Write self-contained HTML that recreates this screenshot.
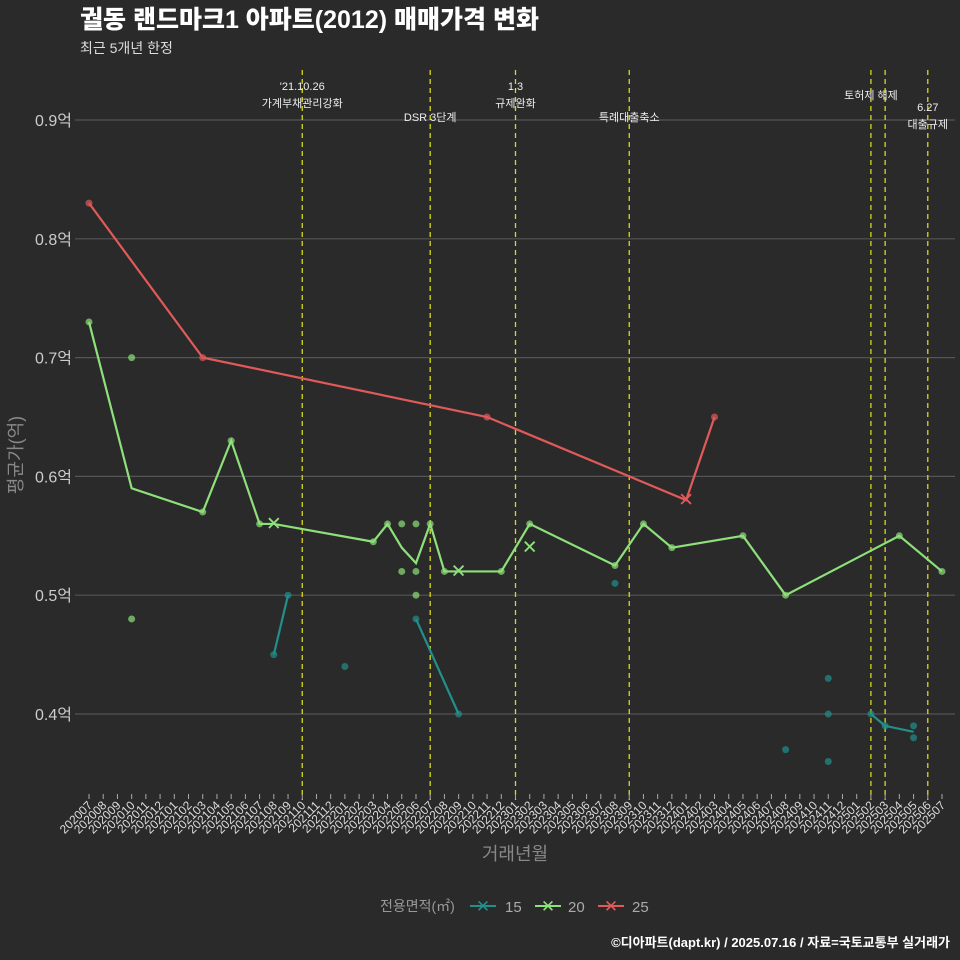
<!DOCTYPE html>
<html><head><meta charset="utf-8"><style>
body{margin:0;background:#2a2a2a;}
svg{display:block;font-family:"Liberation Sans","Noto Sans CJK KR",sans-serif;}
</style></head><body>
<svg id="c" width="960" height="960" viewBox="0 0 960 960">
<rect width="960" height="960" fill="#2a2a2a"/>
<text x="80" y="28" font-size="25" font-weight="900" fill="#fff">궐동 랜드마크1 아파트(2012) 매매가격 변화</text>
<text x="80" y="53" font-size="14" fill="#ddd">최근 5개년 한정</text>
<g id="grid"></g><g id="vlines"></g><g id="marks"></g><g id="xt"></g>
<text transform="translate(22,455) rotate(-90)" text-anchor="middle" font-size="18" fill="#888">평균가(억)</text>
<text x="515" y="860" text-anchor="middle" font-size="18" fill="#888">거래년월</text>
<g>
<text x="380" y="911" font-size="14" fill="#999">전용면적(㎡)</text>
<g><line x1="470" y1="906" x2="496" y2="906" stroke="#21908c" stroke-width="2"/><text x="483" y="912" text-anchor="middle" font-size="17" fill="#21908c">✕</text><text x="505" y="912" font-size="15" fill="#aaa">15</text></g>
<g><line x1="535" y1="906" x2="561" y2="906" stroke="#8ee07a" stroke-width="2"/><text x="548" y="912" text-anchor="middle" font-size="17" fill="#8ee07a">✕</text><text x="568" y="912" font-size="15" fill="#aaa">20</text></g>
<g><line x1="598" y1="906" x2="624" y2="906" stroke="#e05a5a" stroke-width="2"/><text x="611" y="912" text-anchor="middle" font-size="17" fill="#e05a5a">✕</text><text x="632" y="912" font-size="15" fill="#aaa">25</text></g>
</g>
<text x="950" y="947" text-anchor="end" font-size="13" font-weight="bold" fill="#fff">©디아파트(dapt.kr) / 2025.07.16 / 자료=국토교통부 실거래가</text>
</svg>
<script>
const months=[];for(let y=2020;y<=2025;y++)for(let m=1;m<=12;m++){const k=y*100+m;if(k>=202007&&k<=202507)months.push(String(k));}
const yTicks=[0.4,0.5,0.6,0.7,0.8,0.9];
const events=[["202110","'21.10.26","가계부채관리강화",90],["202207","","DSR 3단계",121],["202301","1.3","규제완화",90],["202309","","특례대출축소",121],["202502","","토허제 해제",99],["202503","","",0],["202506","6.27","대출규제",111]];
const line15=[["202108",0.45],["202109",0.50],null,["202206",0.48],["202209",0.40],null,["202502",0.40],["202503",0.39],["202505",0.385]];
const line20=[["202007",0.73],["202010",0.59],["202103",0.57],["202105",0.63],["202107",0.56],["202108",0.56],["202203",0.545],["202204",0.56],["202205",0.54],["202206",0.527],["202207",0.56],["202208",0.52],["202209",0.52],["202212",0.52],["202302",0.56],["202308",0.525],["202310",0.56],["202312",0.54],["202405",0.55],["202408",0.50],["202504",0.55],["202507",0.52]];
const line25=[["202007",0.83],["202103",0.70],["202211",0.65],["202401",0.58],["202403",0.65]];
const pts15=[["202108",0.45],["202109",0.50],["202201",0.44],["202206",0.48],["202209",0.40],["202308",0.51],["202408",0.37],["202411",0.43],["202411",0.40],["202411",0.36],["202502",0.40],["202503",0.39],["202505",0.39],["202505",0.38]];
const pts20=[["202007",0.73],["202010",0.70],["202010",0.48],["202103",0.57],["202105",0.63],["202107",0.56],["202203",0.545],["202204",0.56],["202205",0.56],["202205",0.52],["202206",0.56],["202206",0.52],["202206",0.50],["202207",0.56],["202208",0.52],["202212",0.52],["202302",0.56],["202308",0.525],["202310",0.56],["202312",0.54],["202405",0.55],["202408",0.50],["202504",0.55],["202507",0.52]];
const pts25=[["202007",0.83],["202103",0.70],["202211",0.65],["202403",0.65]];
const xMarks=[["202108",0.56,"#8ee07a"],["202209",0.52,"#8ee07a"],["202302",0.54,"#8ee07a"],["202401",0.58,"#e05a5a"]];
const NS="http://www.w3.org/2000/svg";
const X=k=>89+months.indexOf(k)*(942-89)/(months.length-1);
const Y=v=>714-(v-0.4)*1188;
function mk(p,t,a){const e=document.createElementNS(NS,t);for(const k in a)e.setAttribute(k,a[k]);document.getElementById(p).appendChild(e);return e;}
yTicks.forEach(v=>{const l=mk('grid','line',{x1:75,x2:955,y1:Y(v),y2:Y(v),stroke:'#555','stroke-width':1.2});


const t=mk('grid','text',{x:72,y:Y(v)+6,'text-anchor':'end','font-size':16,fill:'#ccc'});t.textContent=v.toFixed(1)+'억';

});
events.forEach(e=>{const x=X(e[0]);const l=mk('vlines','line',{x1:x,x2:x,y1:70,y2:800,stroke:'#d8d820','stroke-width':1.3,'stroke-dasharray':'5,4'});


if(e[1]){const t=mk('vlines','text',{x:x,y:e[3],'text-anchor':'middle','font-size':11,fill:'#eee'});t.textContent=e[1];

}
if(e[2]){const t=mk('vlines','text',{x:x,y:e[1]?e[3]+17:e[3],'text-anchor':'middle','font-size':11,fill:'#eee'});t.textContent=e[2];

}});
function drawLine(arr,col,name){let seg=[];const flush=()=>{if(seg.length>1){const p=mk('marks','polyline',{points:seg.join(' '),fill:'none',stroke:col,'stroke-width':2.2});

}seg=[];};
arr.forEach(d=>{if(!d)flush();else seg.push(X(d[0])+','+Y(d[1]));});flush();}
function drawPts(arr,col,name){arr.forEach(d=>{const c=mk('marks','circle',{cx:X(d[0]),cy:Y(d[1]),r:3.5,fill:col,'fill-opacity':0.7});

});}
drawPts(pts15,'#21908c','point-15');drawPts(pts20,'#8ee07a','point-20');drawPts(pts25,'#e05a5a','point-25');
drawLine(line15,'#21908c','line-15');drawLine(line20,'#8ee07a','line-20');drawLine(line25,'#e05a5a','line-25');
xMarks.forEach(d=>{const t=mk('marks','text',{x:X(d[0]),y:Y(d[1])+6,'text-anchor':'middle','font-size':19,fill:d[2]});t.textContent='✕';

});
months.forEach(m=>{const x=X(m);mk('xt','line',{x1:x,x2:x,y1:794,y2:799,stroke:'#aaa'});
const t=mk('xt','text',{x:0,y:0,'text-anchor':'end','font-size':12,fill:'#ddd',transform:`translate(${x+4},${806}) rotate(-45)`});t.textContent=m;

});
</script>
</body></html>
